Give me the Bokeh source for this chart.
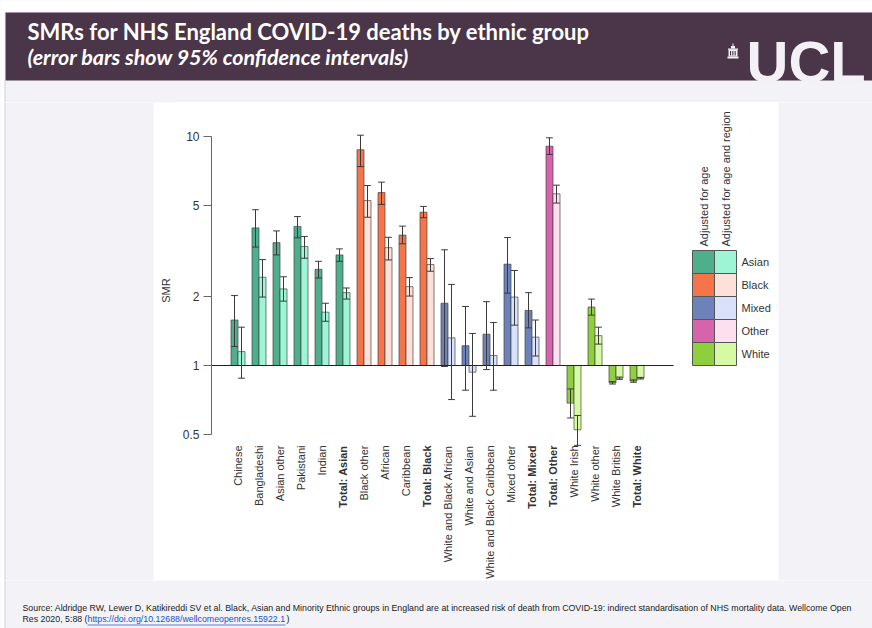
import math
from bokeh.plotting import figure
from bokeh.layouts import column, row
from bokeh.models import Range1d, FixedTicker, CustomJSTickFormatter, ColumnDataSource
from bokeh.embed import file_html
from bokeh.resources import INLINE
from bokeh.core.properties import value

# ---------------- data ----------------
categories = ["Chinese", "Bangladeshi", "Asian other", "Pakistani", "Indian", "Total: Asian",
              "Black other", "African", "Caribbean", "Total: Black",
              "White and Black African", "White and Asian", "White and Black Caribbean",
              "Mixed other", "Total: Mixed", "Total: Other",
              "White Irish", "White other", "White British", "Total: White"]
groups = ["Asian"] * 6 + ["Black"] * 4 + ["Mixed"] * 5 + ["Other"] + ["White"] * 4

smr_age = [1.58, 3.99, 3.44, 4.05, 2.63, 3.04, 8.75, 5.69, 3.71, 4.67,
           1.87, 1.22, 1.37, 2.77, 1.74, 9.07, 0.685, 1.80, 0.84, 0.855]
lo_age = [1.21, 3.29, 3.04, 3.61, 2.41, 2.85, 7.39, 5.05, 3.40, 4.42,
          0.99, 0.78, 0.96, 2.07, 1.46, 8.35, 0.59, 1.66, 0.83, 0.845]
hi_age = [2.02, 4.79, 3.87, 4.47, 2.85, 3.23, 10.13, 6.32, 4.06, 4.95,
          3.20, 1.81, 1.90, 3.62, 2.08, 9.87, 0.79, 1.95, 0.85, 0.865]

smr_reg = [1.15, 2.43, 2.16, 3.31, 1.71, 2.08, 5.25, 3.27, 2.21, 2.76,
           1.32, 0.935, 1.106, 1.99, 1.33, 5.62, 0.524, 1.35, 0.88, 0.88]
lo_reg = [0.88, 1.99, 1.91, 2.94, 1.56, 1.95, 4.44, 2.89, 2.01, 2.58,
          0.71, 0.60, 0.78, 1.50, 1.10, 5.12, 0.448, 1.24, 0.87, 0.873]
hi_reg = [1.47, 2.90, 2.44, 3.66, 1.87, 2.18, 6.11, 3.63, 2.42, 2.93,
          2.26, 1.38, 1.54, 2.60, 1.58, 6.13, 0.605, 1.47, 0.89, 0.887]

group_names = ["Asian", "Black", "Mixed", "Other", "White"]
dark_colors = ["#4fae8b", "#f5744a", "#6d81bb", "#d863ad", "#8fcf3d"]
light_colors = ["#9ef5d6", "#fde0d8", "#d9e2fa", "#fde0f0", "#d6f9a3"]
legend_headers = ["Adjusted for age", "Adjusted for age and region"]
y_ticks = [0.5, 1, 2, 5, 10]

title_text = "SMRs for NHS England COVID-19 deaths by ethnic group"
subtitle_text = "(error bars show 95% confidence intervals)"
y_label = "SMR"
source_line1 = ("Source: Aldridge RW, Lewer D, Katikireddi SV et al. Black, Asian and Minority Ethnic "
                "groups in England are at increased risk of death from COVID-19: indirect "
                "standardisation of NHS mortality data. Wellcome Open")
source_line2a = "Res 2020, 5:88 ("
source_link = "https://doi.org/10.12688/wellcomeopenres.15922.1"
source_line2b = ")"

# ---------------- layout constants ----------------
W, H = 872, 628
BG = "#f3f2f7"
PURPLE = "#4b3548"
LOGO = "#f3f1f6"
CL, FL, FR, FT, FB = 175, 211, 778, 102, 580   # chart canvas left, frame px
X0PX, XSTEP = 237.5, 21.0
Y1PX, DECADE = 365.0, 229.0
FONT = "Liberation Sans"


def xd(px):
    return (px - X0PX) / XSTEP


def yd(py):
    return 10 ** ((Y1PX - py) / DECADE)


def pixfig(x0, y0, w, h):
    f = figure(width=w, height=h, x_range=Range1d(x0, x0 + w), y_range=Range1d(y0 + h, y0),
               x_axis_location=None, y_axis_location=None, min_border=0,
               toolbar_location=None, output_backend="svg")
    f.xgrid.visible = False
    f.ygrid.visible = False
    f.background_fill_color = BG
    f.border_fill_color = BG
    f.outline_line_color = None
    return f


def box(f, l, r, t, b, color):
    f.quad(left=[l], right=[r], top=[t], bottom=[b], fill_color=color, line_color=None)


# ---------------- header ----------------
head = pixfig(0, 0, W, FT)
box(head, 0, W, 0, 12, "white")
box(head, 0, 4, 0, FT, "white")
box(head, 4, 5, 80, FT, "#cfcfd8")
box(head, 5, W, 12, 80, PURPLE)
head.text(x=[27], y=[44], text=[title_text], text_font=value("Lato"), text_font_style="bold",
          text_font_size="22px", text_color="white")
head.text(x=[27], y=[69], text=[subtitle_text], text_font=value("Lato"),
          text_font_style="bold italic", text_font_size="21.5px", text_color="white")
head.text(x=[746], y=[93], text=["UCL"], text_font=value(FONT), text_font_style="bold",
          text_font_size="58px", text_color=LOGO)
# small building mark of the logo
box(head, 727, 738, 56, 58, LOGO)
box(head, 728, 737, 49, 56, LOGO)
for cx in (729.5, 731.8, 734.1):
    box(head, cx, cx + 1.1, 50.5, 55, PURPLE)
box(head, 727.5, 737.5, 48, 49.3, LOGO)
box(head, 730.5, 734.5, 45.5, 48, LOGO)
box(head, 732, 733, 43, 45.5, LOGO)

# ---------------- left strip (with y label) ----------------
left = pixfig(0, FT, CL, FB - FT)
box(left, 0, 4, FT, FB, "white")
box(left, 4, 5, FT, FB, "#cfcfd8")
box(left, 153, CL, FT, FB, "white")
left.text(x=[165], y=[290], text=[y_label], angle=math.pi / 2, text_align="center",
          text_baseline="middle", text_font=value(FONT), text_font_size="11px",
          text_color="#333333")

# ---------------- right strip ----------------
right = pixfig(FR, FT, W - FR, FB - FT)

# ---------------- main chart ----------------
p = figure(width=FR - CL, height=FB - FT, y_axis_type="log", x_axis_location=None,
           x_range=Range1d(xd(FL), xd(FR)), y_range=Range1d(yd(FB), yd(FT)),
           output_backend="svg", toolbar_location=None,
           min_border_left=FL - CL, min_border_right=0, min_border_top=0, min_border_bottom=0)
p.xgrid.visible = False
p.ygrid.visible = False
p.background_fill_color = "white"
p.border_fill_color = "white"
p.outline_line_color = None

ax = p.yaxis[0]
ax.ticker = FixedTicker(ticks=y_ticks)
ax.bounds = (min(y_ticks), max(y_ticks))
ax.formatter = CustomJSTickFormatter(code="return tick.toString();")
ax.minor_tick_line_color = None
ax.major_tick_out = 8
ax.major_tick_in = 0
ax.axis_line_color = "#666666"
ax.major_tick_line_color = "#666666"
ax.major_label_text_font = FONT
ax.major_label_text_font_size = "12px"
ax.major_label_text_color = "#333333"
ax.major_label_standoff = 4

n = len(categories)
idx = list(range(n))
gi = [group_names.index(g) for g in groups]
half = 1.0 / 6.0
bw = 1.0 / 3.0

src_age = ColumnDataSource(dict(x=[i - half for i in idx], top=smr_age, lo=lo_age, hi=hi_age,
                                color=[dark_colors[g] for g in gi]))
src_reg = ColumnDataSource(dict(x=[i + half for i in idx], top=smr_reg, lo=lo_reg, hi=hi_reg,
                                color=[light_colors[g] for g in gi]))

for src in (src_age, src_reg):
    p.vbar(x="x", width=bw, bottom=1, top="top", source=src, fill_color="color",
           line_color="#404040", line_alpha=0.85, line_width=0.8)

# reference line at SMR = 1
p.segment(x0=[xd(FL)], y0=[1], x1=[xd(673)], y1=[1], line_color="#222222", line_width=1)

cap = 0.16
for src in (src_age, src_reg):
    d = src.data
    p.segment(x0=d["x"], y0=d["lo"], x1=d["x"], y1=d["hi"], line_color="#3a3a3a", line_width=1)
    p.segment(x0=[x - cap for x in d["x"]], y0=d["lo"], x1=[x + cap for x in d["x"]], y1=d["lo"],
              line_color="#3a3a3a", line_width=1)
    p.segment(x0=[x - cap for x in d["x"]], y0=d["hi"], x1=[x + cap for x in d["x"]], y1=d["hi"],
              line_color="#3a3a3a", line_width=1)

styles = ["bold" if c.startswith("Total") else "normal" for c in categories]
p.text(x=idx, y=[yd(445)] * n, text=categories, angle=math.pi / 2,
       text_align="right", text_baseline="middle", text_font=value(FONT),
       text_font_size="11px", text_color="#333333", text_font_style=styles)

# legend
rowf = 10 ** (23.0 / DECADE)
nrow = len(group_names)
bottoms = [rowf ** (nrow - 1 - k) for k in range(nrow)]
tops = [b * rowf for b in bottoms]
colx = [xd(692), xd(714), xd(736)]
p.quad(left=[colx[0]] * nrow, right=[colx[1]] * nrow, bottom=bottoms, top=tops,
       fill_color=dark_colors, line_color="#555555", line_width=1)
p.quad(left=[colx[1]] * nrow, right=[colx[2]] * nrow, bottom=bottoms, top=tops,
       fill_color=light_colors, line_color="#555555", line_width=1)
p.text(x=[xd(741)] * nrow, y=[math.sqrt(b * t) for b, t in zip(bottoms, tops)], text=group_names,
       text_align="left", text_baseline="middle", text_font=value(FONT),
       text_font_size="11px", text_color="#333333")
p.text(x=[xd(703), xd(725)], y=[yd(246)] * 2, text=legend_headers, angle=math.pi / 2,
       text_align="left", text_baseline="middle", text_font=value(FONT),
       text_font_size="11px", text_color="#333333")

# ---------------- footer ----------------
foot = pixfig(0, FB, W, H - FB)
box(foot, 0, 4, FB, H, "white")
box(foot, 4, 5, FB, H, "#cfcfd8")
foot.text(x=[22], y=[612], text=[source_line1], text_font=value(FONT), text_font_size="8.8px",
          text_color="#222222")
foot.text(x=[22], y=[623], text=[source_line2a], text_font=value(FONT), text_font_size="8.8px",
          text_color="#222222")
foot.text(x=[87], y=[623], text=[source_link], text_font=value(FONT), text_font_size="8.8px",
          text_color="#1a4fd0")
foot.segment(x0=[87], y0=[624.5], x1=[285], y1=[624.5], line_color="#1a4fd0", line_width=0.7)
foot.text(x=[286], y=[623], text=[source_line2b], text_font=value(FONT), text_font_size="8.8px",
          text_color="#222222")

page = column(head, row(left, p, right, spacing=0), foot, spacing=0)
open("out.html", "w").write(file_html(page, INLINE))
